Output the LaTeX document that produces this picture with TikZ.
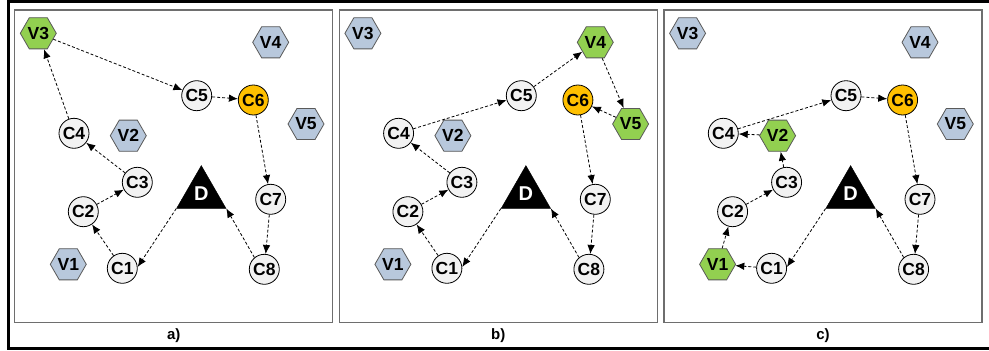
\documentclass[tikz,border=0pt]{standalone}
\usepackage{fontspec}
\setmainfont{Liberation Sans}
\usetikzlibrary{shapes.geometric,arrows.meta}

\definecolor{hexblue}{HTML}{B8C8DC}
\definecolor{hexgreen}{HTML}{92D050}
\definecolor{hubgold}{HTML}{FFC000}
\definecolor{stopfill}{HTML}{F2F2F2}
\definecolor{framegray}{HTML}{6E6E6E}
\definecolor{hexline}{HTML}{5A5A5A}

\tikzset{
  lbl/.style={font=\fontsize{17.5}{17.5}\selectfont\bfseries, text=black},
  stop/.style={circle, draw=black, line width=0.8pt, fill=stopfill,
    minimum size=30pt, inner sep=0pt, lbl},
  hub/.style={stop, fill=hubgold},
  vhex/.style={regular polygon, regular polygon sides=6, draw=hexline,
    line width=0.8pt, fill=hexblue, minimum size=36pt, inner sep=0pt, lbl},
  vused/.style={fill=hexgreen},
  depot/.style={regular polygon, regular polygon sides=3, fill=black,
    draw=black, minimum size=57pt, inner sep=0pt, text=white,
    font=\fontsize{20}{20}\selectfont\bfseries},
  route/.style={-{Latex[length=9pt,width=7.5pt]}, dash pattern=on 3pt off 2pt,
    line width=0.8pt},
  panel/.style={draw=framegray, line width=1.2pt},
  caption/.style={font=\fontsize{15}{15}\selectfont\bfseries},
  % visited vehicles in each panel
  aV3/.style={vused},
  bV4/.style={vused}, bV5/.style={vused},
  cV1/.style={vused}, cV2/.style={vused},
}

% all nodes of one panel, names prefixed with #1
\newcommand\netnodes[1]{%
  \node[vhex, #1V1/.try] (#1V1) at (68.3,264.3) {V1};
  \node[vhex, #1V2/.try] (#1V2) at (128.3,135.7) {V2};
  \node[vhex, #1V3/.try] (#1V3) at (38.3,33.3) {V3};
  \node[vhex, #1V4/.try] (#1V4) at (270.7,42.3) {V4};
  \node[vhex, #1V5/.try] (#1V5) at (306,124) {V5};
  \node[stop] (#1C1) at (122.3,268.3) {C1};
  \node[stop] (#1C2) at (83.3,211.7) {C2};
  \node[stop] (#1C3) at (137.3,182.3) {C3};
  \node[stop] (#1C4) at (74,133.3) {C4};
  \node[stop] (#1C5) at (196.7,95.7) {C5};
  \node[hub]  (#1C6) at (253.3,100) {C6};
  \node[stop] (#1C7) at (270.7,199.3) {C7};
  \node[stop] (#1C8) at (264.3,269.3) {C8};
  \node[depot] (#1D) at (201.3,194.1) {D};
  \draw[panel] (14.7,10) rectangle (332.7,322.7);
  \draw[route] (#1D.corner 2) -- (#1C1.5);
  \draw[route] (#1C8.130) -- (#1D.corner 3);
}

\begin{document}
\begin{tikzpicture}[x=1pt,y=-1pt]
\useasboundingbox (0,0) rectangle (989,351);
\fill[white] (0,0) rectangle (989,351);
\draw[line width=3.2pt] (8.3,1.5) rectangle (994,348.3);

% panel a)
\begin{scope}
  \netnodes{a}
  \foreach \s/\t in {C1/C2,C2/C3,C3/C4,C4/V3,V3/C5,C5/C6,C6/C7,C7/C8}
    \draw[route] (a\s) -- (a\t);
  \node[caption] (capa) at (173.7,335.7) {a)};
\end{scope}

% panel b)
\begin{scope}[xshift=324.6pt]
  \netnodes{b}
  \foreach \s/\t in {C1/C2,C2/C3,C3/C4,C4/C5,C5/V4,V4/V5,V5/C6,C6/C7,C7/C8}
    \draw[route] (b\s) -- (b\t);
  \node[caption] (capb) at (173.7,335.7) {b)};
\end{scope}

% panel c)
\begin{scope}[xshift=649.3pt]
  \netnodes{c}
  \foreach \s/\t in {C1/V1,V1/C2,C2/C3,C3/V2,V2/C4,C4/C5,C5/C6,C6/C7,C7/C8}
    \draw[route] (c\s) -- (c\t);
  \node[caption] (capc) at (173.7,335.7) {c)};
\end{scope}
\end{tikzpicture}
\end{document}
